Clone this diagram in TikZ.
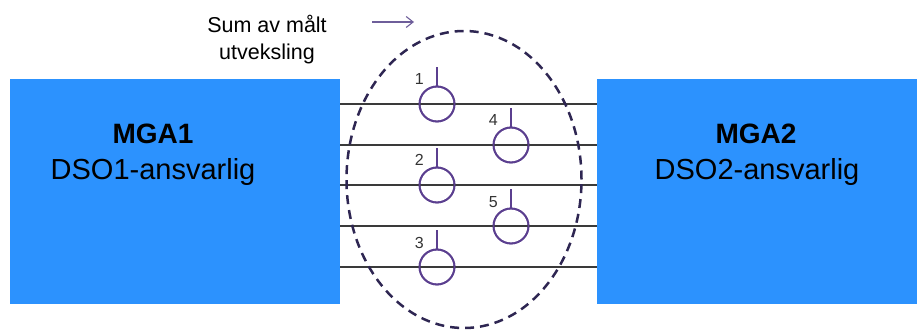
\documentclass[tikz,border=0pt]{standalone}
\usepackage{fontspec}
\setmainfont{Liberation Sans}
\usetikzlibrary{arrows.meta,shapes.geometric,calc}
\definecolor{boxblue}{HTML}{2C92FE}
\definecolor{meterpurple}{HTML}{5B3F8F}
\definecolor{ellcol}{HTML}{2E2652}
\definecolor{arrowcol}{HTML}{6E5E9A}
\definecolor{wirecol}{HTML}{3A3A3A}
\tikzset{
  mgabox/.style={draw=none, fill=boxblue, inner sep=0pt, anchor=north west},
  titletext/.style={anchor=base, font=\fontsize{28}{30}\selectfont\bfseries, inner sep=0pt},
  subtext/.style={anchor=base, font=\fontsize{29}{31}\selectfont, inner sep=0pt},
  meter/.style={circle, draw=meterpurple, line width=1.8pt, minimum size=35pt, inner sep=0pt},
  tick/.style={draw=meterpurple, line width=1.3pt},
  numlabel/.style={anchor=base east, font=\fontsize{16}{18}\selectfont, text=black!80, inner sep=0pt},
  wire/.style={draw=wirecol, line width=1.5pt},
  sumellipse/.style={draw=ellcol, line width=2.5pt, dash pattern=on 9pt off 6pt},
  sumtext/.style={align=center, font=\fontsize{21.5}{27}\selectfont, inner sep=0pt, anchor=base}
}
\begin{document}
\begin{tikzpicture}[x=1pt,y=-1pt]
\useasboundingbox (0,0) rectangle (917,331);
% boxes
\node[mgabox, minimum width=330pt, minimum height=225pt] (box1) at (10,79) {};
\node[mgabox, minimum width=320pt, minimum height=225pt] (box2) at (597,79) {};
\node[titletext] (t1) at (153,144) {MGA1};
\node[subtext] (s1) at (153,179) {DSO1-ansvarlig};
\node[titletext] (t2) at (756,144) {MGA2};
\node[subtext] (s2) at (757,179) {DSO2-ansvarlig};
% meters (positions)
\node[meter] (m1) at (437,104) {};
\node[meter] (m4) at (511,145) {};
\node[meter] (m2) at (437,185) {};
\node[meter] (m5) at (511,226) {};
\node[meter] (m3) at (437,267) {};
% wires
\foreach \m in {m1,m4,m2,m5,m3}{
  \draw[wire] (box1.east |- \m) -- (box2.west |- \m);
}
% ellipse
\node[sumellipse, ellipse, minimum width=235pt, minimum height=297pt, inner sep=0pt] (ell) at (464,179.5) {};
% redraw meters on top
\foreach \m/\n in {m1/1,m4/4,m2/2,m5/5,m3/3}{
  \node[meter] at (\m) {};
  \coordinate (\m top) at ($(\m.north)+(0,-19)$);
  \draw[tick] (\m.north) -- (\m top);
  \node[numlabel] (lab\n) at ($(\m.center)+(-13,-19)$) {\n};
}
% text and arrow
\node[sumtext] (sum) at (267,60) {Sum av målt\\utveksling};
\coordinate (a1) at (372,22);
\coordinate (a2) at (414,22);
\draw[draw=arrowcol, line width=1.1pt, -{Straight Barb[length=7pt,width=11pt]}] (a1) -- (a2);
\end{tikzpicture}
\end{document}
